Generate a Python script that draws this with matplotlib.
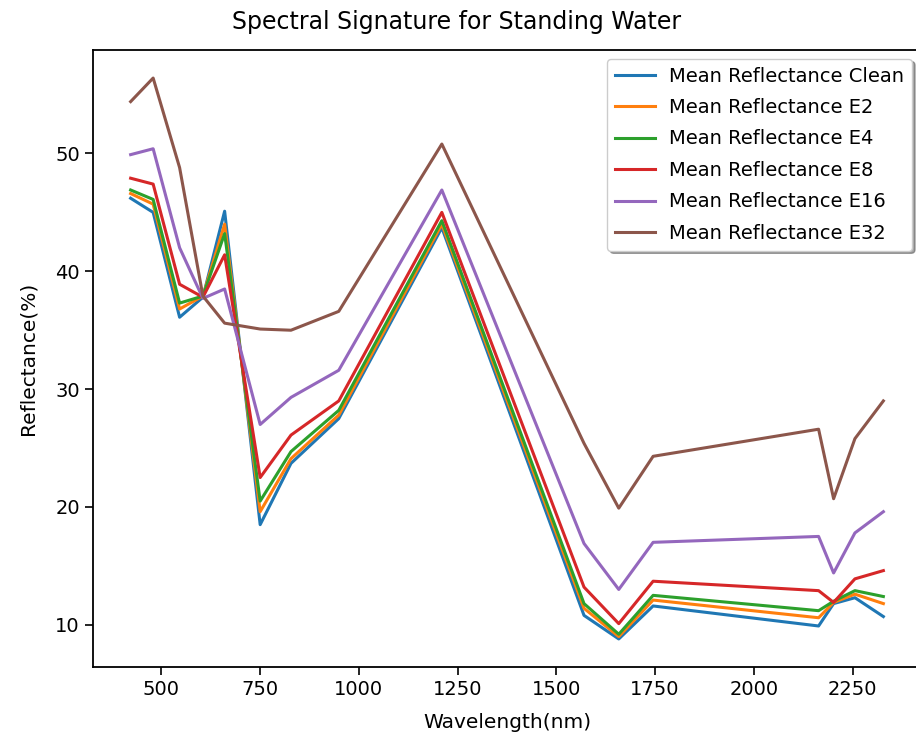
import matplotlib
matplotlib.use("Agg")
import matplotlib.pyplot as plt

# wavelengths (nm)
wavelength = [422, 479, 546, 605, 660, 750, 828, 949, 1210,
              1570, 1658, 1745, 2164, 2202, 2256, 2328]

clean = [46.2, 45.0, 36.1, 37.8, 45.1, 18.5, 23.7, 27.5, 43.7,
         10.8, 8.8, 11.6, 9.9, 11.8, 12.3, 10.7]
e2 = [46.6, 45.7, 36.8, 37.9, 44.0, 19.6, 24.1, 27.8, 44.0,
      11.4, 9.0, 12.1, 10.6, 11.9, 12.6, 11.8]
e4 = [46.9, 46.1, 37.3, 37.9, 43.2, 20.5, 24.7, 28.2, 44.3,
      11.8, 9.2, 12.5, 11.2, 12.0, 12.9, 12.4]
e8 = [47.9, 47.4, 38.9, 37.8, 41.4, 22.5, 26.1, 29.0, 45.0,
      13.2, 10.1, 13.7, 12.9, 11.9, 13.9, 14.6]
e16 = [49.9, 50.4, 42.0, 37.7, 38.5, 27.0, 29.3, 31.6, 46.9,
       16.9, 13.0, 17.0, 17.5, 14.4, 17.8, 19.6]
e32 = [54.4, 56.4, 48.8, 37.9, 35.6, 35.1, 35.0, 36.6, 50.8,
       25.4, 19.9, 24.3, 26.6, 20.7, 25.8, 29.0]

series = [("Mean Reflectance Clean", clean),
          ("Mean Reflectance E2", e2),
          ("Mean Reflectance E4", e4),
          ("Mean Reflectance E8", e8),
          ("Mean Reflectance E16", e16),
          ("Mean Reflectance E32", e32)]

fig = plt.figure(figsize=(9.16, 7.38), dpi=100)
ax = fig.add_axes([93 / 916, 1 - 667 / 738, (921 - 93) / 916, (667 - 50) / 738])

for name, vals in series:
    ax.plot(wavelength, vals, lw=2.2, label=name)

ax.set_xticks([500, 750, 1000, 1250, 1500, 1750, 2000, 2250])
ax.set_yticks([10, 20, 30, 40, 50])
ax.tick_params(labelsize=14, length=6, width=1.2)
for s in ax.spines.values():
    s.set_linewidth(1.3)
ax.set_xlabel("Wavelength(nm)", fontsize=14.5, labelpad=10)
ax.set_ylabel("Reflectance(%)", fontsize=14.5, labelpad=13)
fig.text(457 / 916, 1 - 22 / 738, "Spectral Signature for Standing Water",
         fontsize=17, ha="center", va="center")
ax.legend(loc="upper right", fontsize=14, shadow=True, fancybox=True,
          borderaxespad=0.45, handlelength=2.05, handletextpad=0.75,
          labelspacing=0.64)

fig.savefig("out.png", dpi=100)
